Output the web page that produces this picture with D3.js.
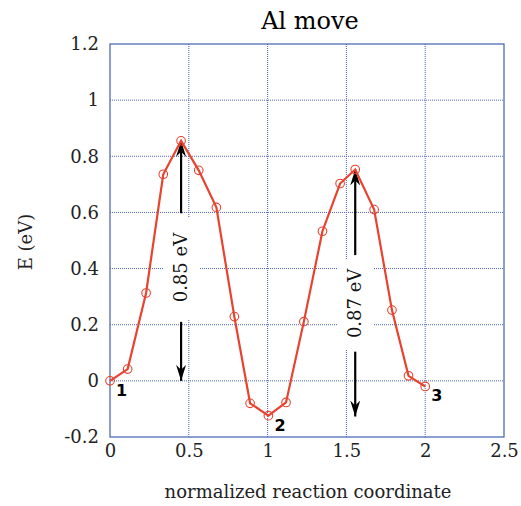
<!DOCTYPE html>
<html>
<head>
<meta charset="utf-8">
<script src="https://cdn.jsdelivr.net/npm/d3@7"></script>
<style>
  body { margin: 0; background: #fff; }
  text { font-family: "DejaVu Serif", serif; }
</style>
</head>
<body>
<svg id="chart" width="521" height="506"></svg>
<script>
// reaction path (normalized coordinate, energy in eV)
var pathX = [0, 0.112, 0.229, 0.338, 0.451, 0.563, 0.675, 0.789, 0.889, 1.005,
             1.117, 1.23, 1.348, 1.46, 1.556, 1.676, 1.789, 1.894, 2.0];
var pathE = [0, 0.042, 0.313, 0.736, 0.855, 0.750, 0.618, 0.229, -0.08, -0.124,
             -0.077, 0.211, 0.533, 0.703, 0.753, 0.610, 0.252, 0.018, -0.02];

var xTicks = [0, 0.5, 1, 1.5, 2, 2.5];
var yTicks = [-0.2, 0, 0.2, 0.4, 0.6, 0.8, 1, 1.2];

// barrier arrows: x, top, bottom, label, gap top/bottom
var barrierX     = [0.451, 1.556];
var barrierTop   = [0.855, 0.753];
var barrierBot   = [0, -0.127];
var barrierText  = ["0.85 eV", "0.87 eV"];
var barrierGapHi = [0.597, 0.448];
var barrierGapLo = [0.21, 0.104];

// state labels
var stateNames = ["1", "2", "3"];
var stateX = [0, 1.005, 2.0];
var stateE = [0, -0.124, -0.02];

var svg = d3.select("#chart");
var margin = {left: 110, top: 44, right: 17, bottom: 69};
var width = 521 - margin.left - margin.right;
var height = 506 - margin.top - margin.bottom;

var g = svg.append("g").attr("transform", `translate(${margin.left},${margin.top})`);

var x = d3.scaleLinear().domain([0, 2.5]).range([0, width]);
var y = d3.scaleLinear().domain([-0.2, 1.2]).range([height, 0]);

var gridColor = "#4a66b8";

// grid lines (dotted)
g.selectAll(".vgrid").data(xTicks.slice(1, -1)).enter().append("line")
    .attr("x1", d => x(d)).attr("x2", d => x(d))
    .attr("y1", 0).attr("y2", height)
    .attr("stroke", gridColor).attr("stroke-width", 1)
    .attr("stroke-dasharray", "1,1");
g.selectAll(".hgrid").data(yTicks.slice(1, -1)).enter().append("line")
    .attr("y1", d => y(d)).attr("y2", d => y(d))
    .attr("x1", 0).attr("x2", width)
    .attr("stroke", gridColor).attr("stroke-width", 1)
    .attr("stroke-dasharray", "1,1");

// frame
g.append("rect").attr("width", width).attr("height", height)
    .attr("fill", "none").attr("stroke", "#4060b0").attr("stroke-width", 1.2);

// axes
var fmt = d => String(+d.toFixed(1));
var xAxis = g.append("g").attr("transform", `translate(0,${height})`)
    .call(d3.axisBottom(x).tickValues(xTicks).tickSize(0).tickPadding(7).tickFormat(fmt));
var yAxis = g.append("g")
    .call(d3.axisLeft(y).tickValues(yTicks).tickSize(0).tickPadding(11).tickFormat(fmt));
[xAxis, yAxis].forEach(a => {
    a.select(".domain").remove();
    a.selectAll("text").style("font-size", "18px").style("font-family", "DejaVu Serif, serif").attr("fill", "#222");
});

// barrier arrows
svg.append("defs").append("marker")
    .attr("id", "head").attr("viewBox", "0 0 16 10")
    .attr("refX", 16).attr("refY", 5)
    .attr("markerWidth", 16).attr("markerHeight", 10)
    .attr("markerUnits", "userSpaceOnUse")
    .attr("orient", "auto")
  .append("path").attr("d", "M0,0 L16,5 L0,10 L5,5 Z").attr("fill", "#000");

barrierX.forEach((bx, i) => {
    var yHi = y(barrierGapHi[i]), yLo = y(barrierGapLo[i]);
    g.append("rect")
        .attr("x", x(bx) - 18).attr("y", yHi + 4)
        .attr("width", 36).attr("height", yLo - yHi - 6)
        .attr("fill", "#fff");
    g.append("line")
        .attr("x1", x(bx)).attr("x2", x(bx))
        .attr("y1", yHi).attr("y2", y(barrierTop[i]))
        .attr("stroke", "#000").attr("stroke-width", 2.2)
        .attr("marker-end", "url(#head)");
    g.append("line")
        .attr("x1", x(bx)).attr("x2", x(bx))
        .attr("y1", yLo).attr("y2", y(barrierBot[i]))
        .attr("stroke", "#000").attr("stroke-width", 2.2)
        .attr("marker-end", "url(#head)");
    g.append("text")
        .attr("transform", `translate(${x(bx) + 6},${(yHi + yLo) / 2}) rotate(-90)`)
        .attr("text-anchor", "middle")
        .style("font-size", "18px").attr("fill", "#111")
        .text(barrierText[i]);
});

// energy path
var pts = pathX.map((d, i) => [d, pathE[i]]);
g.append("path").datum(pts)
    .attr("fill", "none").attr("stroke", "#e8432f").attr("stroke-width", 2.2)
    .attr("d", d3.line().x(d => x(d[0])).y(d => y(d[1])));
g.selectAll(".pt").data(pts).enter().append("circle")
    .attr("cx", d => x(d[0])).attr("cy", d => y(d[1])).attr("r", 4.3)
    .attr("fill", "none").attr("stroke", "#e8432f").attr("stroke-width", 1.1);

// state labels
stateNames.forEach((s, i) => {
    g.append("text")
        .attr("x", x(stateX[i]) + 6).attr("y", y(stateE[i]) + 15)
        .style("font-family", "DejaVu Sans, sans-serif")
        .style("font-weight", "bold").style("font-size", "16px")
        .text(s);
});

// title and axis labels
svg.append("text").attr("x", margin.left + width / 2 + 3).attr("y", 29)
    .attr("text-anchor", "middle").style("font-size", "24px").text("Al move");
svg.append("text").attr("x", margin.left + width / 2 + 1).attr("y", 498)
    .attr("text-anchor", "middle").style("font-size", "18px").attr("fill", "#222")
    .text("normalized reaction coordinate");
svg.append("text").attr("transform", `translate(32,${242}) rotate(-90)`)
    .attr("text-anchor", "middle").style("font-size", "18px").attr("fill", "#222")
    .text("E (eV)");
</script>
</body>
</html>
